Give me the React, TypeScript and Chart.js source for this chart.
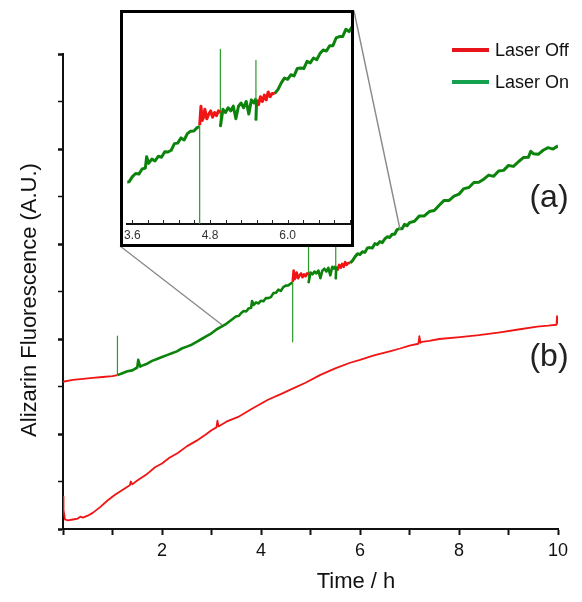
import React, { useEffect, useRef } from "react";
import { Chart, registerables } from "chart.js";

Chart.register(...registerables);

const FONT = "'Liberation Sans', Arial, Helvetica, sans-serif";

// ---- curve (b): laser off throughout ----
const bTime = [0, 0.01, 0.04, 0.1, 0.2, 0.3, 0.35, 0.4, 0.5, 0.6, 0.75, 0.9, 1.05, 1.2, 1.35, 1.37, 1.4, 1.5, 1.7, 1.86, 2.0, 2.15, 2.32, 2.5, 2.7, 2.87, 3.0, 3.1, 3.12, 3.14, 3.3, 3.54, 3.8, 4.14, 4.4, 4.65, 4.9, 5.19, 5.5, 5.8, 6.0, 6.3, 6.6, 6.81, 7.0, 7.18, 7.2, 7.22, 7.25, 7.4, 7.6, 8.02, 8.4, 8.83, 9.2, 9.58, 9.8, 9.97, 9.98, 10.0];
const bValue = [0.34, 0.2, 0.1, 0.09, 0.1, 0.11, 0.13, 0.12, 0.14, 0.17, 0.23, 0.3, 0.36, 0.41, 0.46, 0.5, 0.47, 0.51, 0.58, 0.65, 0.69, 0.75, 0.8, 0.87, 0.93, 0.99, 1.04, 1.07, 1.14, 1.08, 1.13, 1.18, 1.26, 1.36, 1.42, 1.48, 1.54, 1.62, 1.69, 1.75, 1.78, 1.83, 1.87, 1.9, 1.93, 1.95, 2.03, 1.96, 1.97, 1.98, 2.0, 2.02, 2.04, 2.07, 2.1, 2.13, 2.14, 2.15, 2.24, 2.16];

// ---- curve (a): alternating laser off / on segments ----
const aOff1Time = [0, 0.2, 0.4, 0.6, 0.8, 1.0, 1.1];
const aOff1Value = [1.55, 1.57, 1.58, 1.59, 1.6, 1.61, 1.62];

const aOn1Time = [1.1, 1.1, 1.1, 1.2, 1.3, 1.4, 1.5, 1.52, 1.56, 1.6, 1.7, 1.8, 1.9, 2.0, 2.1, 2.2, 2.3, 2.4, 2.5, 2.6, 2.7, 2.8, 2.9, 3.0, 3.1, 3.2, 3.3, 3.4, 3.5, 3.55, 3.6, 3.65, 3.7, 3.75, 3.8, 3.82, 3.85, 3.9, 3.95, 4.0, 4.05, 4.1, 4.15, 4.2, 4.25, 4.3, 4.35, 4.4, 4.45, 4.5, 4.55, 4.6, 4.64, 4.64, 4.64];
const aOn1Value = [1.62, 2.03, 1.62, 1.64, 1.66, 1.67, 1.7, 1.78, 1.71, 1.72, 1.74, 1.77, 1.79, 1.81, 1.83, 1.85, 1.87, 1.9, 1.92, 1.94, 1.97, 2.0, 2.03, 2.06, 2.1, 2.13, 2.16, 2.2, 2.24, 2.242, 2.274, 2.294, 2.29, 2.322, 2.328, 2.4, 2.358, 2.385, 2.374, 2.403, 2.397, 2.431, 2.43, 2.441, 2.483, 2.486, 2.519, 2.506, 2.546, 2.562, 2.563, 2.584, 2.59, 1.97, 2.6];

const aOff2Time = [4.64, 4.66, 4.68, 4.7, 4.72, 4.75, 4.78, 4.81, 4.84, 4.87, 4.9, 4.93, 4.96];
const aOff2Value = [2.6, 2.72, 2.63, 2.65, 2.7, 2.64, 2.67, 2.69, 2.65, 2.68, 2.66, 2.69, 2.68];

const aOn2Time = [4.96, 4.96, 4.96, 5.0, 5.04, 5.08, 5.12, 5.16, 5.2, 5.24, 5.28, 5.32, 5.36, 5.4, 5.44, 5.48, 5.51, 5.51, 5.51, 5.52];
const aOn2Value = [2.68, 3.08, 2.59, 2.7, 2.68, 2.71, 2.69, 2.72, 2.64, 2.72, 2.74, 2.71, 2.75, 2.67, 2.76, 2.74, 2.77, 3.01, 2.63, 2.76];

const aOff3Time = [5.52, 5.55, 5.58, 5.61, 5.64, 5.67, 5.7, 5.73, 5.76, 5.8];
const aOff3Value = [2.76, 2.73, 2.78, 2.75, 2.79, 2.76, 2.81, 2.78, 2.8, 2.8];

const aOn3Time = [5.8, 5.85, 5.9, 5.95, 6.0, 6.05, 6.1, 6.15, 6.2, 6.25, 6.3, 6.35, 6.4, 6.45, 6.5, 6.55, 6.6, 6.65, 6.7, 6.75, 6.8, 6.85, 6.9, 6.95, 7.0, 7.1, 7.2, 7.3, 7.4, 7.5, 7.6, 7.7, 7.8, 7.9, 8.0, 8.1, 8.2, 8.3, 8.4, 8.5, 8.6, 8.7, 8.8, 8.9, 9.0, 9.1, 9.2, 9.3, 9.4, 9.45, 9.5, 9.6, 9.7, 9.8, 9.9, 10.0];
const aOn3Value = [2.8, 2.825, 2.866, 2.898, 2.89, 2.919, 2.912, 2.959, 2.962, 2.958, 3.004, 2.994, 3.025, 3.014, 3.053, 3.076, 3.069, 3.103, 3.103, 3.152, 3.161, 3.161, 3.207, 3.192, 3.225, 3.24, 3.296, 3.296, 3.342, 3.353, 3.408, 3.459, 3.458, 3.504, 3.525, 3.583, 3.594, 3.648, 3.65, 3.682, 3.725, 3.712, 3.769, 3.775, 3.827, 3.817, 3.866, 3.91, 3.912, 3.975, 3.951, 3.944, 3.987, 4.014, 3.999, 4.033];

// ---- axes / annotations ----
const xTickValues = [0, 1, 2, 3, 4, 5, 6, 7, 8, 9, 10];
const xTickLabels = ["", "", "2", "", "4", "", "6", "", "8", "", "10"];
const yTickValues = [0, 0.5, 1, 1.5, 2, 2.5, 3, 3.5, 4, 4.5, 5];
const insetTickValues = [3.6, 3.84, 4.08, 4.32, 4.56, 4.8, 5.04, 5.28, 5.52, 5.76, 6.0, 6.24, 6.48, 6.72, 6.96];
const insetTickLabels = ["3.6", "", "", "", "", "4.8", "", "", "", "", "6.0", "", "", "", ""];
const legendLabels = ["Laser Off", "Laser On"];
const legendColors = ["#e8141b", "#14a04e"];
const seriesLabels = ["(a)", "(b)"];
const connectorTime = [3.21, 6.81];
const connectorValue = [2.15, 3.15];

const RED = "#f01414";
const GREEN = "#0c840c";
const SPIKE_GREEN = "#2a9a2a";

const pts = (t: number[], v: number[]) => t.map((x, i) => ({ x, y: v[i] }));

const isSpike = (c: any) => c.p0 && c.p1 && c.p0.parsed.x === c.p1.parsed.x;

const lineDs = (t: number[], v: number[], color: string, w: number) => ({
  data: pts(t, v),
  borderColor: color,
  backgroundColor: color,
  borderWidth: w,
  pointRadius: 0,
  tension: 0,
  fill: false,
  borderJoinStyle: "round",
  segment: {
    borderWidth: (c: any) => (isSpike(c) ? 1.2 : w),
    borderColor: (c: any) => (isSpike(c) && color === GREEN ? SPIKE_GREEN : color),
  },
});

const mainDecor = {
  id: "mainDecor",
  afterDraw(chart: any) {
    const { ctx } = chart;
    const x = chart.scales.x;
    const y = chart.scales.y;
    ctx.save();
    const corners = [
      [120, 246],
      [354, 11],
    ];
    ctx.strokeStyle = "#8a8a8a";
    ctx.lineWidth = 1.4;
    connectorTime.forEach((t, i) => {
      ctx.beginPath();
      ctx.moveTo(corners[i][0], corners[i][1]);
      ctx.lineTo(x.getPixelForValue(t), y.getPixelForValue(connectorValue[i]));
      ctx.stroke();
    });
    ctx.fillStyle = "#111";
    ctx.font = `22px ${FONT}`;
    ctx.textAlign = "center";
    ctx.textBaseline = "middle";
    ctx.fillText("Time / h", 356, 582);
    ctx.save();
    ctx.translate(30, 300);
    ctx.rotate(-Math.PI / 2);
    ctx.fillText("Alizarin Fluorescence (A.U.)", 0, 0);
    ctx.restore();
    ctx.font = `32px ${FONT}`;
    ctx.fillStyle = "#222";
    ctx.fillText(seriesLabels[0], 549, 198);
    ctx.fillText(seriesLabels[1], 549, 357);
    const ly = [50, 82];
    legendLabels.forEach((lab, i) => {
      ctx.strokeStyle = legendColors[i];
      ctx.lineWidth = 4;
      ctx.beginPath();
      ctx.moveTo(452, ly[i]);
      ctx.lineTo(489, ly[i]);
      ctx.stroke();
      ctx.fillStyle = "#111";
      ctx.font = `18px ${FONT}`;
      ctx.textAlign = "left";
      ctx.fillText(lab, 495, ly[i] + 1);
    });
    ctx.restore();
  },
};

const insetDecor = {
  id: "insetDecor",
  beforeDraw(chart: any) {
    const { ctx, width, height } = chart;
    ctx.save();
    ctx.fillStyle = "#fff";
    ctx.fillRect(0, 0, width, height);
    ctx.restore();
  },
  afterDraw(chart: any) {
    const { ctx, width, height, chartArea } = chart;
    const x = chart.scales.x;
    ctx.save();
    ctx.strokeStyle = "#222";
    ctx.lineWidth = 1;
    x.ticks.forEach((t: any) => {
      const px = Math.round(x.getPixelForValue(t.value)) + 0.5;
      ctx.beginPath();
      ctx.moveTo(px, chartArea.bottom);
      ctx.lineTo(px, chartArea.bottom - 4);
      ctx.stroke();
    });
    ctx.strokeStyle = "#000";
    ctx.lineWidth = 3;
    ctx.strokeRect(1.5, 1.5, width - 3, height - 3);
    ctx.restore();
  },
};

export default function App() {
  const mainRef = useRef<HTMLCanvasElement>(null);
  const insetRef = useRef<HTMLCanvasElement>(null);

  useEffect(() => {
    const mainChart = new Chart(mainRef.current as HTMLCanvasElement, {
      type: "line",
      data: {
        datasets: [
          lineDs(bTime, bValue, RED, 1.8),
          lineDs(aOff1Time, aOff1Value, RED, 1.8),
          lineDs(aOn1Time, aOn1Value, GREEN, 2.6),
          lineDs(aOff2Time, aOff2Value, RED, 2.6),
          lineDs(aOn2Time, aOn2Value, GREEN, 2.6),
          lineDs(aOff3Time, aOff3Value, RED, 2.6),
          lineDs(aOn3Time, aOn3Value, GREEN, 3),
        ] as any,
      },
      options: {
        animation: false,
        responsive: false,
        devicePixelRatio: 1,
        layout: { padding: { left: 0, right: 24, top: 54, bottom: 0 } },
        plugins: { legend: { display: false }, tooltip: { enabled: false } },
        scales: {
          x: {
            type: "linear",
            min: 0,
            max: 10,
            afterBuildTicks: (s: any) => {
              s.ticks = xTickValues.map((v) => ({ value: v }));
            },
            afterFit: (s: any) => {
              s.height = 73;
            },
            ticks: {
              autoSkip: false,
              maxRotation: 0,
              padding: 5,
              color: "#111",
              font: { size: 18, family: FONT },
              callback: (_v: any, i: number) => xTickLabels[i],
            },
            grid: { display: true, drawOnChartArea: false, drawTicks: true, tickLength: 6, tickWidth: 2, tickColor: "#111" },
            border: { display: true, color: "#111", width: 2 },
          },
          y: {
            type: "linear",
            min: 0,
            max: 5,
            afterBuildTicks: (s: any) => {
              s.ticks = yTickValues.map((v) => ({ value: v }));
            },
            afterFit: (s: any) => {
              s.width = 63;
            },
            ticks: { callback: () => "", padding: 0 },
            grid: {
              display: true,
              drawOnChartArea: false,
              drawTicks: true,
              tickLength: 5,
              tickWidth: (c: any) => (c.tick && Number.isInteger(c.tick.value) ? 2.5 : 1.5),
              tickColor: "#111",
            },
            border: { display: true, color: "#111", width: 2 },
          },
        },
      } as any,
      plugins: [mainDecor],
    });

    const insetChart = new Chart(insetRef.current as HTMLCanvasElement, {
      type: "line",
      data: {
        datasets: [
          lineDs(aOn1Time, aOn1Value, GREEN, 3),
          lineDs(aOff2Time, aOff2Value, RED, 3),
          lineDs(aOn2Time, aOn2Value, GREEN, 3),
          lineDs(aOff3Time, aOff3Value, RED, 3),
          lineDs(aOn3Time, aOn3Value, GREEN, 3),
        ] as any,
      },
      options: {
        animation: false,
        responsive: false,
        devicePixelRatio: 1,
        layout: { padding: { left: 3, right: 3, top: 3, bottom: 0 } },
        plugins: { legend: { display: false }, tooltip: { enabled: false } },
        scales: {
          x: {
            type: "linear",
            min: 3.52,
            max: 6.98,
            afterBuildTicks: (s: any) => {
              s.ticks = insetTickValues.map((v) => ({ value: v }));
            },
            afterFit: (s: any) => {
              s.height = 23;
            },
            ticks: {
              autoSkip: false,
              maxRotation: 0,
              padding: 4,
              color: "#333",
              font: { size: 12, family: FONT },
              callback: (_v: any, i: number) => insetTickLabels[i],
            },
            grid: { display: true, drawOnChartArea: false, drawTicks: false },
            border: { display: true, color: "#111", width: 2 },
          },
          y: { type: "linear", min: 1.974, max: 3.31, display: false },
        },
      } as any,
      plugins: [insetDecor],
    });

    return () => {
      mainChart.destroy();
      insetChart.destroy();
    };
  }, []);

  return (
    <div style={{ position: "fixed", left: 0, top: 0, width: 582, height: 602, background: "#fff" }}>
      <canvas ref={mainRef} width={582} height={602} style={{ position: "absolute", left: 0, top: 0 }} />
      <canvas ref={insetRef} width={234} height={237} style={{ position: "absolute", left: 120, top: 10 }} />
    </div>
  );
}
